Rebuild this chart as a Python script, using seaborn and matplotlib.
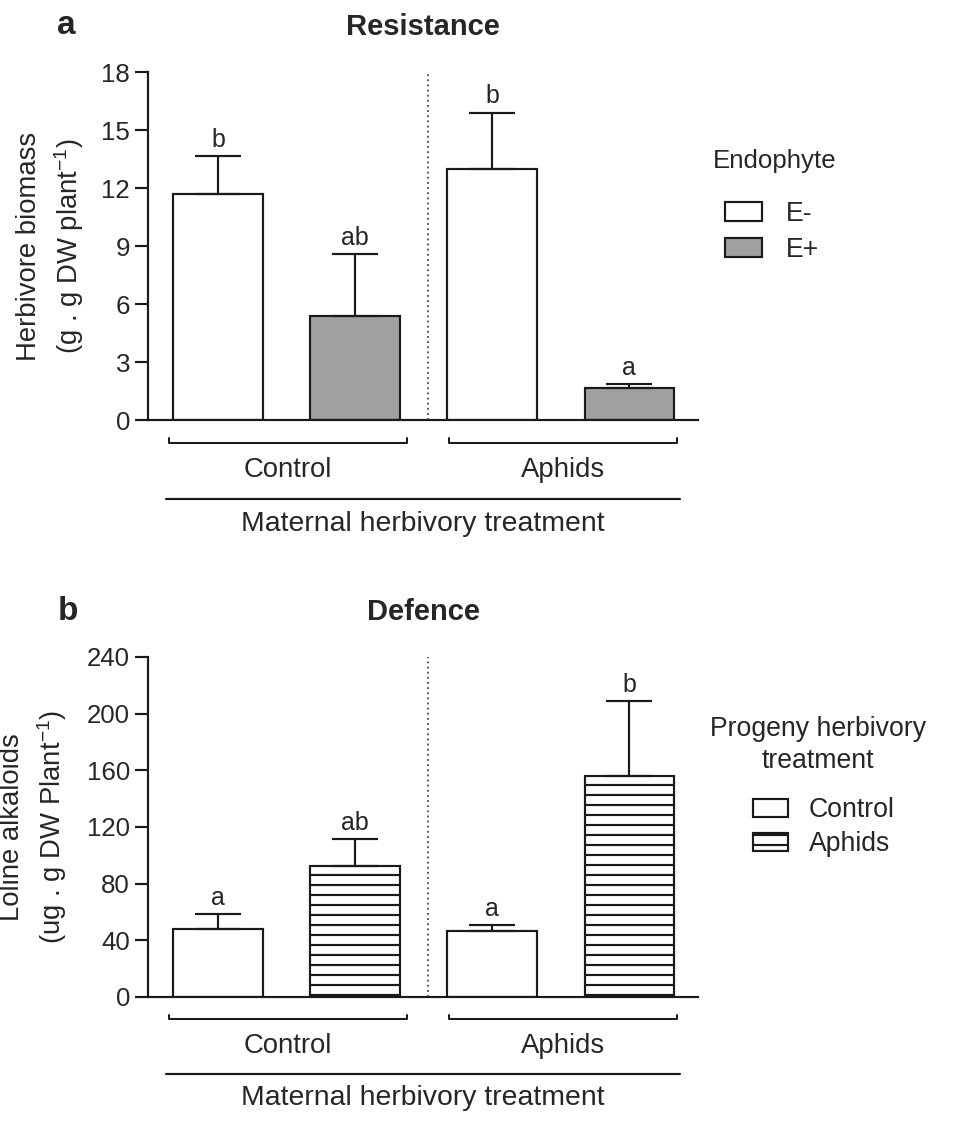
import pandas as pd
import matplotlib
matplotlib.use("Agg")
import matplotlib.pyplot as plt
import seaborn as sns
from matplotlib.patches import Patch
from matplotlib.lines import Line2D

# values (bar order: Control E-, Control E+, Aphids E-, Aphids E+)
maternal = ["Control", "Control", "Aphids", "Aphids"]
endophyte = ["E-", "E+", "E-", "E+"]
biomass_mean = [11.7, 5.4, 13.0, 1.65]
biomass_se = [1.93, 3.2, 2.9, 0.22]
biomass_letters = ["b", "ab", "b", "a"]

progeny = ["Control", "Aphids", "Control", "Aphids"]
loline_mean = [48.0, 92.5, 46.5, 156.0]
loline_se = [10.5, 19.0, 4.0, 52.7]
loline_letters = ["a", "ab", "a", "b"]

biomass_ticks = [0, 3, 6, 9, 12, 15, 18]
loline_ticks = [0, 40, 80, 120, 160, 200, 240]

sns.set_style("ticks")
plt.rcParams['font.family'] = ['Liberation Sans', 'DejaVu Sans']
plt.rcParams['mathtext.fontset'] = 'custom'
plt.rcParams['mathtext.rm'] = 'Liberation Sans'
plt.rcParams['mathtext.default'] = 'regular'
plt.rcParams['hatch.linewidth'] = 1.3
plt.rcParams['hatch.color'] = '#1a1a1a'

INK = '#1a1a1a'
LW = 1.3
W, H = 966, 1123

slots = [f"{m} {i}" for i, m in enumerate(maternal)]

df_a = pd.DataFrame({"slot": slots, "maternal": maternal, "endophyte": endophyte,
                     "biomass": biomass_mean})
df_b = pd.DataFrame({"slot": slots, "maternal": maternal, "progeny": progeny,
                     "loline": loline_mean})

fig = plt.figure(figsize=(W / 120, H / 120), dpi=120)
ax_a = fig.add_axes([148 / W, 1 - 420 / H, 550 / W, 348 / H])
ax_b = fig.add_axes([148 / W, 1 - 997 / H, 550 / W, 340 / H])


def draw_panel(ax, df, yvar, hue, palette, means, ses, letters, ticks, ylabel, label_x):
    sns.barplot(data=df, x="slot", y=yvar, hue=hue, palette=palette, order=slots,
                dodge=False, width=0.655, edgecolor=INK, linewidth=LW,
                errorbar=None, legend=False, ax=ax)
    for p in ax.patches:
        xc = p.get_x() + p.get_width() / 2
        i = int(round(xc))
        ax.errorbar(xc, means[i], yerr=[[0], [ses[i]]], fmt='none', ecolor=INK,
                    elinewidth=LW, capsize=14, capthick=LW, zorder=3)
        ax.annotate(letters[i], (xc, means[i] + ses[i]), xytext=(0, 5.5),
                    textcoords='offset points', ha='center', va='baseline', fontsize=15)

    ax.set_xlim(-0.51, 3.5)
    ax.set_ylim(ticks[0], ticks[-1])
    ax.set_yticks(ticks)
    ax.set_xticks([])
    ax.set_xlabel("")
    ax.set_ylabel(ylabel, fontsize=16.5, linespacing=1.4)
    ax.yaxis.set_label_coords(label_x, 0.5)
    ax.tick_params(axis='y', length=7.8, width=LW, labelsize=15.5, pad=3, color=INK)
    sns.despine(ax=ax)
    for s in ("left", "bottom"):
        ax.spines[s].set_linewidth(LW)
        ax.spines[s].set_color(INK)

    # separator between maternal treatments
    ax.axvline(1.53, color='0.3', lw=1.1, ls=(0, (1, 1.8)), zorder=0)

    # group brackets below the axis
    tr = ax.get_xaxis_transform()
    for lo, hi, name in [(-0.357, 1.378, "Control"), (1.684, 3.345, "Aphids")]:
        ax.add_line(Line2D([lo, lo, hi, hi], [-0.053, -0.066, -0.066, -0.053],
                           transform=tr, color=INK, lw=1.2, clip_on=False))
        ax.text((lo + hi) / 2, -0.145, name, transform=tr, ha='center', va='center',
                fontsize=16.5)
    ax.add_line(Line2D([-0.379, 3.367], [-0.226, -0.226], transform=tr, color=INK,
                       lw=LW, clip_on=False))
    ax.text((-0.379 + 3.367) / 2, -0.298, "Maternal herbivory treatment", transform=tr,
            ha='center', va='center', fontsize=17)


draw_panel(ax_a, df_a, "biomass", "endophyte", {"E-": "white", "E+": "#a0a0a0"},
           biomass_mean, biomass_se, biomass_letters, biomass_ticks,
           "Herbivore biomass\n(g . g DW plant$^{-1}$)", -0.112)
draw_panel(ax_b, df_b, "loline", "progeny", {"Control": "white", "Aphids": "white"},
           loline_mean, loline_se, loline_letters, loline_ticks,
           "Loline alkaloids\n(ug . g DW Plant$^{-1}$)", -0.143)

for p in ax_b.patches:
    i = int(round(p.get_x() + p.get_width() / 2))
    if progeny[i] == "Aphids":
        p.set_hatch('--')

ax_a.set_title("Resistance", fontweight='bold', fontsize=17.5, pad=22)
ax_b.set_title("Defence", fontweight='bold', fontsize=17.5, pad=22)
fig.text(66 / W, 1 - 26 / H, "a", fontweight='bold', fontsize=20, ha='center', va='center')
fig.text(68 / W, 1 - 611 / H, "b", fontweight='bold', fontsize=20, ha='center', va='center')

# legends
fig.text(775 / W, 1 - 161 / H, "Endophyte", ha='center', va='center', fontsize=15.5)
leg_a = [Patch(facecolor='white', edgecolor=INK, lw=LW, label='E-'),
         Patch(facecolor='#a0a0a0', edgecolor=INK, lw=LW, label='E+')]
fig.legend(handles=leg_a, loc='upper left', bbox_to_anchor=(725 / W, 1 - 201 / H),
           frameon=False, borderpad=0, borderaxespad=0, handlelength=1.4,
           handleheight=0.72, handletextpad=0.9, labelspacing=0.36, fontsize=16)

fig.text(818 / W, 1 - 745 / H, "Progeny herbivory\ntreatment", ha='center', va='center',
         fontsize=16, linespacing=1.25)
leg_b = [Patch(facecolor='white', edgecolor=INK, lw=LW, label='Control'),
         Patch(facecolor='white', edgecolor=INK, lw=LW, hatch='--', label='Aphids')]
fig.legend(handles=leg_b, loc='upper left', bbox_to_anchor=(753 / W, 1 - 797 / H),
           frameon=False, borderpad=0, borderaxespad=0, handlelength=1.3,
           handleheight=0.66, handletextpad=0.8, labelspacing=0.3, fontsize=16)

fig.savefig("out.png", dpi=120)
